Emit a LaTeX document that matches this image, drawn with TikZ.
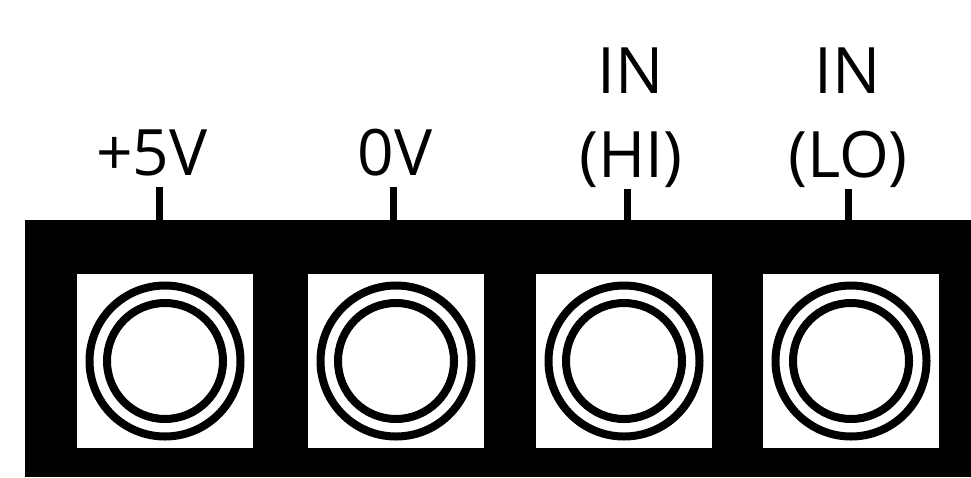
\documentclass[tikz,border=0pt]{standalone}
\usepackage{fontspec}
\setmainfont{Open Sans}
\usepackage{tikz}
\usetikzlibrary{positioning}
\tikzset{
jack/.style = { rectangle, draw = none, fill = white, minimum width = 176pt, minimum height = 174pt, inner sep = 0pt },
ring/.style = { circle, draw = black, line width = 8pt, fill = none, inner sep = 0pt },
pinlabel/.style = { black, align = center, font = \fontsize{64}{84}\selectfont, inner sep = 0pt },
tick/.style = { draw = black, line width = 7pt },
}

\begin{document}
\begin{tikzpicture}[x=1pt, y=-1pt]
    \useasboundingbox (0,0) rectangle (971,477);
    % panel
    \node[rectangle, fill = black, inner sep = 0pt, anchor = north west,
          minimum width = 946pt, minimum height = 257pt] (panel) at (25,220) {};
    \begin{scope}[every node/.style={jack}]
      \node (j1) at (165,361) {};
      \node (j2) at (396,361) {};
      \node (j3) at (624,361) {};
      \node (j4) at (851,361) {};
    \end{scope}
    \foreach \j in {j1, j2, j3, j4} {
      \node[ring, minimum size = 151pt] at (\j) {};
      \node[ring, minimum size = 116pt] at (\j) {};
    }
    \begin{scope}[every node/.style={pinlabel, anchor = base}]
      \node (l1) at (152,175) {+5V};
      \node (l2) at (395,175) {0V};
      \node (l3) at (631,177) {IN\\(HI)};
      \node (l4) at (848,177) {IN\\(LO)};
    \end{scope}
    \coordinate (t1) at (159,187);
    \coordinate (t2) at (393,187);
    \coordinate (t3) at (627,189);
    \coordinate (t4) at (848,189);
    \foreach \t in {t1, t2, t3, t4} {
      \draw[tick] (\t) -- (\t |- panel.north);
    }
\end{tikzpicture}
\end{document}
